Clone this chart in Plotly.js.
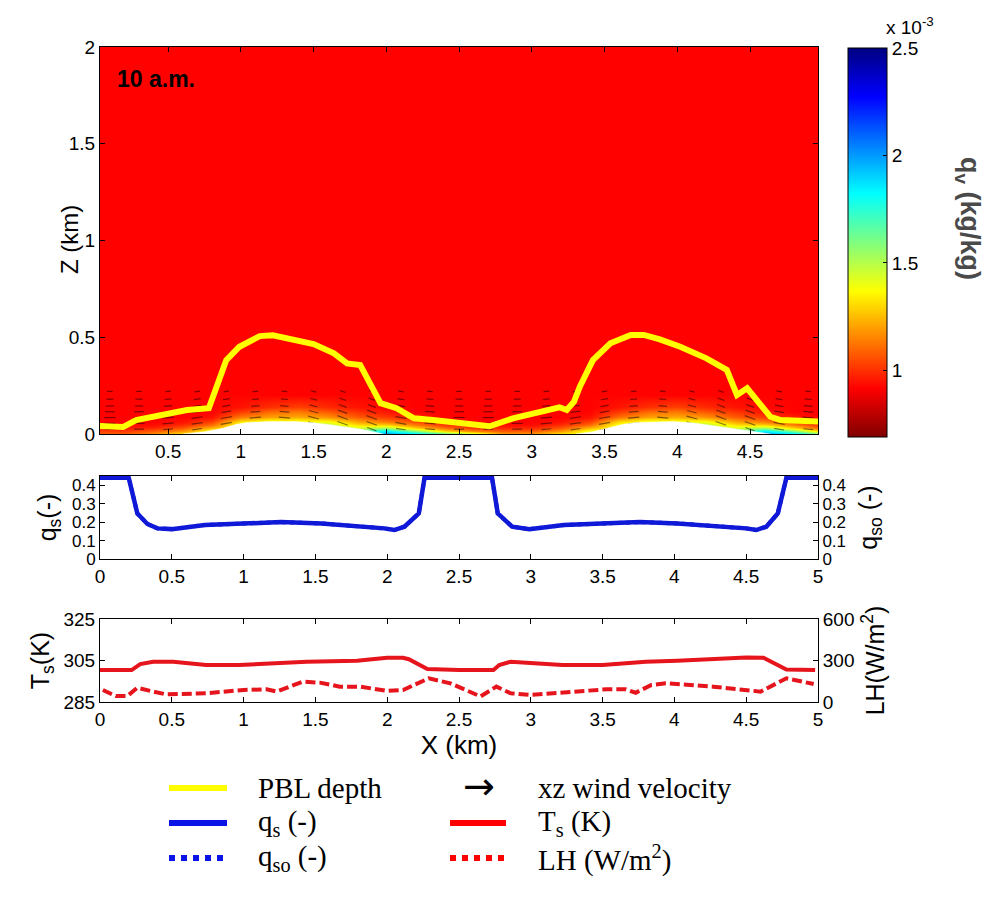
<!DOCTYPE html>
<html>
<head>
<meta charset="utf-8">
<script src="https://cdn.plot.ly/plotly-3.0.1.min.js"></script>
<style>html,body{margin:0;padding:0;background:#fff;}#chart{width:993px;height:901px;}</style>
</head>
<body>
<div id="chart"></div>
<script>
// ---------------- DATA ----------------
// Top panel: water vapour mixing ratio qv (x 1e-3 kg/kg), coarse grid
const hmX = [0.0,0.2,0.4,0.6,0.8,1.0,1.2,1.4,1.6,1.8,2.0,2.2,2.4,2.6,2.8,3.0,3.2,3.4,3.6,3.8,4.0,4.2,4.4,4.6,4.8,5.0];
const hmZ = [0, 0.015, 0.03, 0.045, 0.06, 0.075, 0.09, 0.105, 0.12, 0.14, 0.2, 2.0];
const qvRow0  = [1.10,1.08,1.18,1.35,1.40,1.40,1.40,1.40,1.50,1.70,2.00,1.90,1.70,1.50,1.20,1.20,1.35,1.40,1.40,1.40,1.40,1.50,1.60,2.00,1.90,1.60];
const qvRow1  = [1.03,1.02,1.08,1.18,1.40,1.40,1.40,1.40,1.50,1.60,1.85,1.60,1.30,1.15,1.08,1.08,1.18,1.40,1.40,1.40,1.40,1.50,1.55,1.85,1.60,1.25];
const qvRow2  = [0.97,0.96,0.99,1.08,1.25,1.40,1.40,1.40,1.50,1.45,1.55,1.30,1.12,1.02,0.99,0.99,1.08,1.25,1.40,1.40,1.40,1.50,1.45,1.55,1.30,1.08];
const qvRow3  = [0.93,0.93,0.94,1.00,1.12,1.40,1.40,1.40,1.50,1.32,1.30,1.15,1.02,0.96,0.94,0.94,1.00,1.12,1.40,1.40,1.40,1.50,1.32,1.30,1.15,0.99];
const qvRow4  = [0.92,0.92,0.92,0.95,1.04,1.35,1.40,1.40,1.40,1.22,1.15,1.06,0.96,0.93,0.92,0.92,0.95,1.04,1.32,1.40,1.40,1.40,1.22,1.15,1.06,0.94];
const qvRow5  = [0.92,0.92,0.92,0.93,0.98,1.22,1.30,1.30,1.26,1.14,1.07,1.01,0.94,0.92,0.92,0.92,0.93,0.98,1.20,1.30,1.30,1.26,1.14,1.07,1.01,0.92];
const qvRow6  = [0.92,0.92,0.92,0.92,0.95,1.14,1.20,1.22,1.18,1.08,1.02,0.97,0.92,0.92,0.92,0.92,0.92,0.95,1.12,1.20,1.22,1.18,1.08,1.02,0.97,0.92];
const qvRow7  = [0.92,0.92,0.92,0.92,0.93,1.07,1.15,1.17,1.12,1.04,0.98,0.94,0.92,0.92,0.92,0.92,0.92,0.93,1.06,1.15,1.17,1.12,1.04,0.98,0.94,0.92];
const qvRow8  = [0.92,0.92,0.92,0.92,0.92,1.01,1.09,1.12,1.06,1.00,0.95,0.92,0.92,0.92,0.92,0.92,0.92,0.92,1.01,1.09,1.12,1.06,1.00,0.95,0.92,0.92];
const qvRow9  = [0.92,0.92,0.92,0.92,0.92,0.95,1.00,1.03,0.99,0.95,0.93,0.92,0.92,0.92,0.92,0.92,0.92,0.92,0.95,1.00,1.03,0.99,0.95,0.93,0.92,0.92];
const qvRow10 = [0.92,0.92,0.92,0.92,0.92,0.92,0.92,0.92,0.92,0.92,0.92,0.92,0.92,0.92,0.92,0.92,0.92,0.92,0.92,0.92,0.92,0.92,0.92,0.92,0.92,0.92];
const qvRow11 = [0.92,0.92,0.92,0.92,0.92,0.92,0.92,0.92,0.92,0.92,0.92,0.92,0.92,0.92,0.92,0.92,0.92,0.92,0.92,0.92,0.92,0.92,0.92,0.92,0.92,0.92];

// Blank (no data) humps at the bottom of the top panel
const hump1X = [0.60,0.75,0.87,0.97,1.05,1.20,1.37,1.50,1.62,1.75,1.83,1.94,1.98];
const hump1Z = [0,0.012,0.029,0.050,0.060,0.064,0.064,0.058,0.047,0.034,0.024,0.007,0];
const hump2X = [3.30,3.42,3.51,3.63,3.72,3.85,3.97,4.10,4.20,4.32,4.43,4.58,4.64];
const hump2Z = [0,0.012,0.029,0.050,0.060,0.064,0.064,0.058,0.047,0.034,0.024,0.007,0];

// PBL depth (km)
const pblX = [0.03,0.125,0.19,0.28,0.47,0.63,0.78,0.83,0.90,0.99,1.13,1.22,1.36,1.50,1.64,1.73,1.82,1.89,1.96,2.07,2.19,2.32,2.53,2.67,2.71,2.87,3.19,3.24,3.29,3.33,3.42,3.54,3.68,3.77,3.88,4.02,4.20,4.34,4.41,4.48,4.55,4.64,4.71,4.97];
const pblZ = [0.041,0.041,0.036,0.072,0.098,0.124,0.133,0.245,0.382,0.451,0.506,0.510,0.486,0.465,0.417,0.365,0.357,0.262,0.159,0.133,0.081,0.072,0.055,0.041,0.040,0.081,0.138,0.124,0.167,0.245,0.382,0.469,0.512,0.512,0.489,0.451,0.391,0.331,0.202,0.236,0.176,0.089,0.072,0.064];

// xz wind vectors (near-surface rows)
const windX = [0.1,0.3,0.5,0.7,0.9,1.1,1.3,1.5,1.7,1.9,2.1,2.3,2.5,2.7,2.9,3.1,3.3,3.5,3.7,3.9,4.1,4.3,4.5,4.7,4.9];
const windAngle = [0,0,-5,-8,-10,-5,5,15,20,20,10,5,0,0,0,-5,-8,-10,-5,5,15,20,20,10,5];
const windZ = [0.025,0.055,0.085,0.115,0.145,0.18,0.22];
const windSpeed = [7,8,8,7,6,5,4];

// Middle panel: soil moisture
const qsX = [0,0.20,0.26,0.33,0.40,0.50,0.73,0.99,1.26,1.54,1.78,1.98,2.05,2.12,2.22,2.26,2.73,2.77,2.87,2.99,3.23,3.50,3.76,4.02,4.27,4.50,4.57,4.64,4.72,4.78,5.0];
const qsV = [0.44,0.44,0.247,0.19,0.166,0.162,0.184,0.193,0.200,0.193,0.180,0.166,0.157,0.175,0.247,0.44,0.44,0.247,0.175,0.162,0.184,0.193,0.200,0.193,0.180,0.166,0.157,0.175,0.247,0.44,0.44];
const qsoV = qsV.slice();

// Bottom panel: surface temperature and latent heat flux
const tsX = [0,0.22,0.28,0.37,0.51,0.74,0.97,1.25,1.44,1.79,2.0,2.11,2.15,2.28,2.5,2.74,2.78,2.86,2.99,3.22,3.5,3.8,4.02,4.27,4.5,4.62,4.78,4.98];
const tsV = [300.4,300.4,303.3,304.4,304.4,302.8,302.8,303.6,304.4,304.9,306.3,306.3,305.6,300.9,300.4,300.4,302.8,304.4,303.9,302.8,302.8,304.4,304.9,305.6,306.5,306.3,300.7,300.4];
const lhX = [0.02,0.11,0.19,0.26,0.37,0.46,0.74,1.0,1.16,1.23,1.32,1.41,1.53,1.67,1.81,2.0,2.11,2.29,2.44,2.55,2.65,2.76,2.86,2.99,3.22,3.53,3.66,3.73,3.84,3.94,4.27,4.5,4.6,4.78,4.87,4.97];
const lhV = [87,43,43,103,75,55,63,87,92,75,111,147,140,111,111,80,87,171,135,87,40,111,63,51,67,92,92,67,123,135,111,82,75,171,154,130];

// Tick labels
const topXTicks = [0.5,1,1.5,2,2.5,3,3.5,4,4.5];
const topYTicks = [0,0.5,1,1.5,2];
const botXTicks = [0,0.5,1,1.5,2,2.5,3,3.5,4,4.5,5];
const qsTicks = [0,0.1,0.2,0.3,0.4];
const tsTicks = [285,305,325];
const lhTicks = [0,300,600];
const cbTicks = [1,1.5,2,2.5];

// ---------------- FIGURE ----------------
const W = 993, H = 901;
const fx = p => p / W;
const fy = p => 1 - p / H;
const SANS = 'Liberation Sans, Arial, sans-serif';
const SERIF = 'Liberation Serif, Times New Roman, serif';
const BLUE = 'rgb(15,25,215)';
const RED = 'rgb(230,20,28)';

const jetRev = [[0,'rgb(128,0,0)'],[0.125,'rgb(255,0,0)'],[0.375,'rgb(255,255,0)'],[0.625,'rgb(0,255,255)'],[0.875,'rgb(0,0,255)'],[1,'rgb(0,0,128)']];

const hmQ = [qvRow0,qvRow1,qvRow2,qvRow3,qvRow4,qvRow5,qvRow6,qvRow7,qvRow8,qvRow9,qvRow10,qvRow11];

const wx = [], wz = [], wa = [], ws = [];
windZ.forEach((z, j) => {
  windX.forEach((x, i) => { wx.push(x); wz.push(z); wa.push(windAngle[i]); ws.push(windSpeed[j]); });
});

const traces = [
  {type:'heatmap', x: hmX, y: hmZ, z: hmQ, xaxis:'x', yaxis:'y', zsmooth:'best',
   colorscale: jetRev, zmin: 0.69, zmax: 2.5, hoverinfo:'skip',
   colorbar: {x: fx(848), xanchor:'left', xpad:0, y: fy(48), yanchor:'top', ypad:0,
     len: 389, lenmode:'pixels', thickness: 39, thicknessmode:'pixels',
     outlinewidth:1, outlinecolor:'#000', ticks:'inside', ticklen:4, tickcolor:'#000',
     tickvals: cbTicks, ticktext: cbTicks.map(String), tickfont:{family:SANS, size:19, color:'#000'}}},
  {type:'scatter', mode:'markers', x: wx, y: wz, xaxis:'x', yaxis:'y', hoverinfo:'skip', showlegend:false,
   marker:{symbol:'line-ew', size: ws, angle: wa, color:'#000', line:{color:'rgba(0,0,0,0.7)', width:1.2}}},
  {type:'scatter', mode:'lines', x: hump1X, y: hump1Z, xaxis:'x', yaxis:'y', fill:'toself', fillcolor:'#ffffff',
   line:{width:0.5, color:'#ffffff'}, hoverinfo:'skip', showlegend:false},
  {type:'scatter', mode:'lines', x: hump2X, y: hump2Z, xaxis:'x', yaxis:'y', fill:'toself', fillcolor:'#ffffff',
   line:{width:0.5, color:'#ffffff'}, hoverinfo:'skip', showlegend:false},
  {type:'scatter', mode:'lines', name:'PBL depth', x: pblX, y: pblZ, xaxis:'x', yaxis:'y',
   line:{color:'#ffff00', width:6}, showlegend:false},
  {type:'scatter', mode:'lines', name:'q_so', x: qsX, y: qsoV, xaxis:'x2', yaxis:'y3',
   line:{color:BLUE, width:4, dash:'dot'}, showlegend:false},
  {type:'scatter', mode:'lines', name:'q_s', x: qsX, y: qsV, xaxis:'x2', yaxis:'y2',
   line:{color:BLUE, width:4.5}, showlegend:false},
  {type:'scatter', mode:'lines', name:'Ts', x: tsX, y: tsV, xaxis:'x3', yaxis:'y4',
   line:{color:RED, width:4}, showlegend:false},
  {type:'scatter', mode:'lines', name:'LH', x: lhX, y: lhV, xaxis:'x3', yaxis:'y5',
   line:{color:RED, width:4, dash:'10px,4px'}, showlegend:false}
];

const axBase = {showline:true, linecolor:'#000', linewidth:1, mirror:'ticks', ticks:'inside', ticklen:5,
  tickcolor:'#000', showgrid:false, zeroline:false, tickfont:{family:SANS, size:19, color:'#000'}, automargin:false};
const midTickFont = {family:SANS, size:17, color:'#000'};
const xDom = [fx(100), fx(818)];
const TF = {family:SANS, size:25, color:'#000'};

function ann(x, y, text, font, extra) {
  return Object.assign({xref:'paper', yref:'paper', x: fx(x), y: fy(y), xanchor:'left', yanchor:'middle',
    showarrow:false, text: text, font: font}, extra || {});
}
const LF = {family:SERIF, size:29, color:'#000'};

const layout = {
  width: W, height: H, margin:{l:0,r:0,t:0,b:0}, paper_bgcolor:'#fff', plot_bgcolor:'#fff',
  showlegend:false, font:{family:SANS, color:'#000'},
  xaxis: Object.assign({}, axBase, {domain:xDom, anchor:'y', range:[0.032,4.967], tickvals: topXTicks}),
  yaxis: Object.assign({}, axBase, {domain:[fy(434), fy(47)], anchor:'x', range:[0,2], tickvals: topYTicks}),
  xaxis2: Object.assign({}, axBase, {domain:xDom, anchor:'y2', range:[0,5], tickvals: botXTicks}),
  yaxis2: Object.assign({}, axBase, {domain:[fy(559), fy(476)], anchor:'x2', range:[0,0.45], tickvals: qsTicks, mirror:true,
     tickfont: midTickFont, title:{text:'q<sub>s</sub>(-)', font:TF, standoff:8}}),
  yaxis3: Object.assign({}, axBase, {domain:[fy(559), fy(476)], anchor:'x2', overlaying:'y2', side:'right', range:[0,0.45], tickvals: qsTicks, mirror:false,
     tickfont: midTickFont, title:{text:'q<sub>so</sub> (-)', font:TF, standoff:14}}),
  xaxis3: Object.assign({}, axBase, {domain:xDom, anchor:'y4', range:[0,5], tickvals: botXTicks,
     title:{text:'X (km)', font:{family:SANS, size:26, color:'#000'}, standoff:6}}),
  yaxis4: Object.assign({}, axBase, {domain:[fy(702), fy(619)], anchor:'x3', range:[285,325], tickvals: tsTicks, mirror:true,
     title:{text:'T<sub>s</sub>(K)', font:TF, standoff:6}}),
  yaxis5: Object.assign({}, axBase, {domain:[fy(702), fy(619)], anchor:'x3', overlaying:'y4', side:'right', range:[0,600], tickvals: lhTicks, mirror:false,
     title:{text:'LH(W/m<sup>2</sup>)', font:TF, standoff:12}}),
  annotations: [
    ann(70, 240, 'Z (km)', {family:SANS, size:24, color:'#000'}, {xanchor:'center', textangle:-90}),
    ann(115, 79, '<b>10 a.m.</b>', {family:SANS, size:23, color:'#000'}),
    ann(884, 26, 'x 10<sup>-3</sup>', {family:SANS, size:19, color:'#000'}),
    ann(968, 218, '<b>q<sub>v</sub> (kg/kg)</b>', {family:SANS, size:27, color:'#4a4a4a'}, {xanchor:'center', textangle:90}),
    // legend texts
    ann(256, 788, 'PBL depth', LF),
    ann(256, 823, 'q<sub>s</sub> (-)', LF),
    ann(256, 858, 'q<sub>so</sub> (-)', LF),
    ann(536, 788, 'xz wind velocity', LF),
    ann(536, 823, 'T<sub>s</sub> (K)', LF),
    ann(536, 858, 'LH (W/m<sup>2</sup>)', LF),
    ann(479, 786, '\u2192', {family:'DejaVu Sans', size:38, color:'#000'}, {xanchor:'center'})
  ],
  shapes: [
    {type:'line', xref:'paper', yref:'paper', x0: fx(169), x1: fx(227), y0: fy(788), y1: fy(788), line:{color:'#ffff00', width:6}},
    {type:'line', xref:'paper', yref:'paper', x0: fx(169), x1: fx(227), y0: fy(823), y1: fy(823), line:{color:'rgb(10,20,230)', width:6}},
    {type:'line', xref:'paper', yref:'paper', x0: fx(169), x1: fx(227), y0: fy(858), y1: fy(858), line:{color:'rgb(10,20,230)', width:6, dash:'dot'}},
    {type:'line', xref:'paper', yref:'paper', x0: fx(450), x1: fx(506), y0: fy(823), y1: fy(823), line:{color:'rgb(255,0,0)', width:6}},
    {type:'line', xref:'paper', yref:'paper', x0: fx(450), x1: fx(506), y0: fy(858), y1: fy(858), line:{color:'rgb(255,0,0)', width:6, dash:'dot'}}
  ]
};

Plotly.newPlot('chart', traces, layout, {displayModeBar:false, staticPlot:true});
</script>
</body>
</html>
